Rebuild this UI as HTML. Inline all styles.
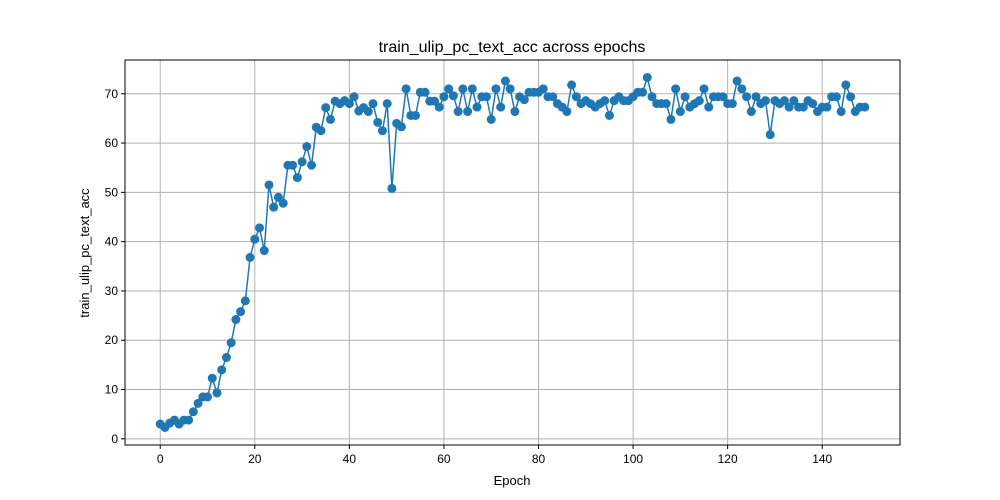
<!DOCTYPE html>
<html><head><meta charset="utf-8"><style>body{margin:0;background:#fff}svg{display:block;font-family:"Liberation Sans","DejaVu Sans",sans-serif}</style></head>
<body>
<svg id="chart" width="1000" height="500">
<rect x="0" y="0" width="1000" height="500" fill="#fff"/>
<text x="512" y="52" font-size="16" text-anchor="middle">train_ulip_pc_text_acc across epochs</text>
<text x="512" y="485" font-size="13" text-anchor="middle">Epoch</text>
<text x="89" y="253" font-size="13" text-anchor="middle" transform="rotate(-90 89 253)">train_ulip_pc_text_acc</text>
<g id="grid"></g><g id="series"></g><g id="axes"></g>
</svg>
<script>
const xTicks=[0,20,40,60,80,100,120,140];
const yTicks=[0,10,20,30,40,50,60,70];
const accValues=[3.0,2.3,3.2,3.8,3.0,3.8,3.8,5.5,7.2,8.5,8.5,12.3,9.3,14.0,16.5,19.5,24.2,25.8,28.0,36.8,40.5,42.8,38.2,51.5,47.0,49.0,47.8,55.5,55.5,53.0,56.2,59.3,55.5,63.2,62.5,67.2,64.8,68.5,68.0,68.6,68.0,69.4,66.5,67.2,66.4,68.0,64.2,62.5,68.0,50.8,
64.0,63.3,71.0,65.6,65.6,70.3,70.3,68.5,68.5,67.3,
69.4,71.0,69.6,66.4,71.0,66.4,71.0,67.3,69.4,69.4,
64.8,71.0,67.3,72.6,71.0,66.4,69.4,68.8,70.3,70.3,
70.3,71.0,69.4,69.4,68.0,67.3,66.4,71.8,69.4,68.0,
68.6,68.0,67.3,68.0,68.6,65.6,68.6,69.4,68.6,68.6,
69.4,70.3,70.3,73.3,69.4,68.0,68.0,68.0,64.8,71.0,
66.4,69.4,67.3,68.0,68.6,71.0,67.3,69.4,69.4,69.4,
68.0,68.0,72.6,71.0,69.4,66.4,69.4,68.0,68.6,61.7,
68.6,68.0,68.6,67.3,68.6,67.3,67.3,68.6,68.0,66.4,
67.3,67.3,69.4,69.4,66.4,71.8,69.4,66.4,67.3,67.3];
const epochs=accValues.map((_,i)=>i);
const L=125,R=900,T=60,B=445;
const NS="http://www.w3.org/2000/svg";
const xmin=-0.05*(epochs.length-1), xmax=(epochs.length-1)*1.05;
const vmin=Math.min(...accValues), vmax=Math.max(...accValues), pad=(vmax-vmin)*0.05;
const ymin=vmin-pad, ymax=vmax+pad;
const sx=v=>L+(v-xmin)/(xmax-xmin)*(R-L);
const sy=v=>B-(v-ymin)/(ymax-ymin)*(B-T);
function mk(tag,attrs,parent){const e=document.createElementNS(NS,tag);for(const k in attrs)e.setAttribute(k,attrs[k]);parent.appendChild(e);return e;}
const grid=document.getElementById('grid'),axes=document.getElementById('axes'),series=document.getElementById('series');
xTicks.forEach(t=>{const x=sx(t);
 const g=mk('line',{x1:x,x2:x,y1:T,y2:B,stroke:'#b0b0b0','stroke-width':1},grid);
 
 
 mk('line',{x1:x,x2:x,y1:B,y2:B+4,stroke:'#000'},axes);
 const tx=mk('text',{x:x,y:B+18,'font-size':12,'text-anchor':'middle'},axes);tx.textContent=t;
 
 });
yTicks.forEach(t=>{const y=sy(t);
 const g=mk('line',{x1:L,x2:R,y1:y,y2:y,stroke:'#b0b0b0','stroke-width':1},grid);
 
 
 mk('line',{x1:L-4,x2:L,y1:y,y2:y,stroke:'#000'},axes);
 const tx=mk('text',{x:L-7,y:y+4,'font-size':12,'text-anchor':'end'},axes);tx.textContent=t;
 
 });
const fr=mk('rect',{x:L,y:T,width:R-L,height:B-T,fill:'none',stroke:'#000','stroke-width':1},axes);


const pl=mk('polyline',{points:epochs.map((e,i)=>sx(e)+','+sy(accValues[i])).join(' '),fill:'none',stroke:'#1f77b4','stroke-width':1.5},series);


epochs.forEach((e,i)=>{const c=mk('circle',{cx:sx(e),cy:sy(accValues[i]),r:4.5,fill:'#1f77b4'},series);
 
 });
</script>
</body></html>
